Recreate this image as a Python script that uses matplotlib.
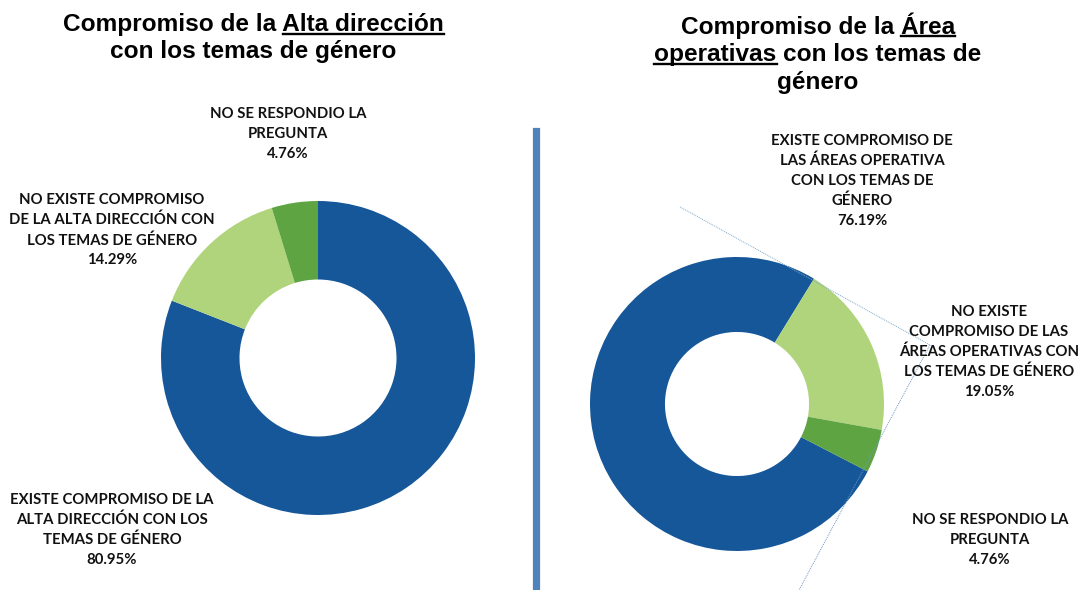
import matplotlib
matplotlib.use("Agg")
import matplotlib.pyplot as plt

# ---- data ----
left_labels = ["EXISTE COMPROMISO DE LA\nALTA DIRECCIÓN CON LOS\nTEMAS DE GÉNERO",
               "NO EXISTE COMPROMISO\nDE LA ALTA DIRECCIÓN CON\nLOS TEMAS DE GÉNERO",
               "NO SE RESPONDIO LA\nPREGUNTA"]
left_values = [80.95, 14.29, 4.76]
right_labels = ["EXISTE COMPROMISO DE\nLAS ÁREAS OPERATIVA\nCON LOS TEMAS DE\nGÉNERO",
                "NO EXISTE\nCOMPROMISO DE LAS\nÁREAS OPERATIVAS CON\nLOS TEMAS DE GÉNERO",
                "NO SE RESPONDIO LA\nPREGUNTA"]
right_values = [76.19, 19.05, 4.76]
colors = ["#155799", "#AFD47B", "#5EA443"]

left_title = [("Compromiso de la ", "Alta dirección", ""),
              ("con los temas de género", "", "")]
right_title = [("Compromiso de la ", "Área", ""),
               ("", "operativas", " con los temas de"),
               ("género", "", "")]

W, H = 1089, 590
fig = plt.figure(figsize=(W / 100, H / 100), dpi=100)
fig.patch.set_facecolor("white")


def fx(x):
    return x / W


def fy(y):
    return 1 - y / H


def pie_axes(cx, cy, r):
    ax = fig.add_axes([fx(cx - r), fy(cy + r), 2 * r / W, 2 * r / H])
    ax.axis("off")
    return ax


def fix_limits(ax):
    ax.set_xlim(-1, 1)
    ax.set_ylim(-1, 1)
    ax.set_aspect("equal")


axL = pie_axes(318, 358, 157)
axL.pie(left_values, colors=colors, startangle=90, counterclock=False,
        radius=1, wedgeprops=dict(width=0.5, linewidth=0))
fix_limits(axL)

axR = pie_axes(737, 404, 147)
axR.pie(right_values, colors=colors, startangle=-27.3, counterclock=False,
        radius=1, wedgeprops=dict(width=0.51, linewidth=0))
fix_limits(axR)


# faint leader lines on the right chart (in pie data coords)
def to_data(px, py, cx=737, cy=404, r=147):
    return (px - cx) / r, (cy - py) / r


p1 = to_data(680, 207)
p2 = to_data(930, 345)
p3 = to_data(798, 592)
axR.plot([p1[0], p2[0]], [p1[1], p2[1]], color="#7FA9C9", lw=0.7, ls=(0, (1, 1)),
         clip_on=False)
axR.plot([p2[0], p3[0]], [p2[1], p3[1]], color="#6F97C8", lw=0.7, ls=(0, (1, 1)),
         clip_on=False)

# separator
fig.add_artist(plt.Line2D([fx(535.5), fx(535.5)], [fy(131), fy(588)],
                          color="#4F81BD", lw=5.2))

# labels
lab_font = dict(family=["Lato", "DejaVu Sans"], fontweight="bold", fontsize=10.7,
                color="#111111", ha="center", va="center", linespacing=1.5)
fig.text(fx(288), fy(134), left_labels[2] + f"\n{left_values[2]:.2f}%", **lab_font)
fig.text(fx(112), fy(230), left_labels[1] + f"\n{left_values[1]:.2f}%", **lab_font)
fig.text(fx(112), fy(530), left_labels[0] + f"\n{left_values[0]:.2f}%", **lab_font)
fig.text(fx(862), fy(181), right_labels[0] + f"\n{right_values[0]:.2f}%", **lab_font)
fig.text(fx(989), fy(352), right_labels[1] + f"\n{right_values[1]:.2f}%", **lab_font)
fig.text(fx(990), fy(540), right_labels[2] + f"\n{right_values[2]:.2f}%", **lab_font)

# titles with underlined parts
renderer = fig.canvas.get_renderer()
title_font = dict(family=["Liberation Sans", "DejaVu Sans"], fontweight="bold",
                  fontsize=17.6)


def text_width(s):
    if not s:
        return 0.0
    t = fig.text(0, 0, s, **title_font)
    w = t.get_window_extent(renderer).width
    t.remove()
    return w


def title_line(parts, cx, cy):
    pre, und, post = parts
    full = pre + und + post
    wf = text_width(full)
    x0 = cx - wf / 2
    fig.text(fx(cx), fy(cy), full, ha="center", va="center", **title_font)
    if und:
        wp = text_width(pre + "|") - text_width("|") if pre else 0.0
        wu = text_width(und)
        xs = x0 + wp
        fig.add_artist(plt.Line2D([fx(xs), fx(xs + wu)], [fy(cy + 10), fy(cy + 10)],
                                  color="black", lw=1.7))


for i, parts in enumerate(left_title):
    title_line(parts, 253, 24 + i * 27.5)
for i, parts in enumerate(right_title):
    title_line(parts, 818, 26 + i * 28)

fig.savefig("out.png", dpi=100, facecolor="white")
